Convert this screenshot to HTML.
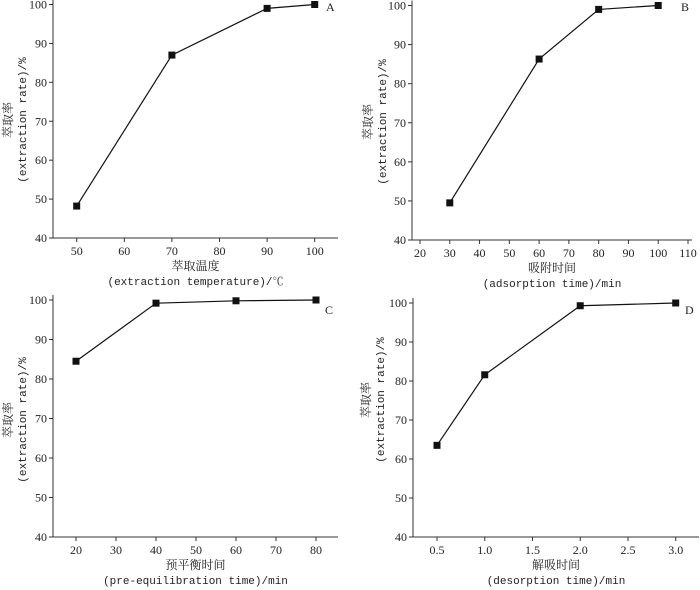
<!DOCTYPE html>
<html><head><meta charset="utf-8"><style>
html,body{margin:0;padding:0;background:#fff;}
svg{display:block;}
text{fill:#222;}
.tk{font-family:"Liberation Serif",serif;font-size:12px;}
.zh{font-family:"Liberation Serif","Noto Serif CJK SC",serif;font-size:12px;}
.en{font-family:"Liberation Mono","Noto Serif CJK SC",monospace;font-size:11px;}
</style></head><body>
<svg id="chart" width="700" height="590"></svg>
<script>
const aX = [50, 70, 90, 100];
const aY = [48.2, 87.0, 99.0, 100.0];
const aTicks = [50, 60, 70, 80, 90, 100];
const bX = [30, 60, 80, 100];
const bY = [49.5, 86.3, 99.0, 100.0];
const bTicks = [20, 30, 40, 50, 60, 70, 80, 90, 100, 110];
const cX = [20, 40, 60, 80];
const cY = [84.5, 99.2, 99.8, 100.0];
const cTicks = [20, 30, 40, 50, 60, 70, 80];
const dX = [0.5, 1.0, 2.0, 3.0];
const dY = [63.5, 81.6, 99.3, 100.0];
const dTicks = [0.5, 1.0, 1.5, 2.0, 2.5, 3.0];
const dTickLabels = ["0.5", "1.0", "1.5", "2.0", "2.5", "3.0"];
const yTicks = [40, 50, 60, 70, 80, 90, 100];

const NS = "http://www.w3.org/2000/svg";
const svg = document.getElementById("chart");
function mk(tag, attrs, parent, txt) {
  const e = document.createElementNS(NS, tag);
  for (const k in attrs) e.setAttribute(k, attrs[k]);
  if (txt !== undefined) e.textContent = txt;
  parent.appendChild(e);
  return e;
}
function panel(cfg) {
  const g = mk("g", {}, svg);
  
  
  const xs = v => cfg.x0px + (v - cfg.x0) / (cfg.x1 - cfg.x0) * (cfg.x1px - cfg.x0px);
  const ys = v => cfg.y40 + (v - 40) / 60 * (cfg.y100 - cfg.y40);
  const ax = mk("g", {stroke: "#333", "stroke-width": 1}, g);
  
  
  mk("line", {x1: cfg.axL, y1: cfg.y100 - 5, x2: cfg.axL, y2: cfg.y40}, ax);
  mk("line", {x1: cfg.axL, y1: cfg.y40, x2: cfg.axR, y2: cfg.y40}, ax);
  yTicks.forEach(t => {
    const y = ys(t);
    mk("line", {x1: cfg.axL - 4, y1: y, x2: cfg.axL, y2: y}, ax);
    const tx = mk("text", {x: cfg.axL - 6, y: y + 4, "text-anchor": "end", class: "tk"}, g, String(t));
    
    
  });
  cfg.ticks.forEach((t, i) => {
    const x = xs(t);
    mk("line", {x1: x, y1: cfg.y40, x2: x, y2: cfg.y40 + 4}, ax);
    const tx = mk("text", {x: x, y: cfg.y40 + 17, "text-anchor": "middle", class: "tk"}, g, cfg.labels ? cfg.labels[i] : String(t));
    
    
  });
  const pts = cfg.xd.map((v, i) => xs(v) + "," + ys(cfg.yd[i])).join(" ");
  const ln = mk("polyline", {points: pts, fill: "none", stroke: "#111", "stroke-width": 1.2}, g);
  
  
  cfg.xd.forEach((v, i) => {
    const r = mk("rect", {x: xs(v) - 3.5, y: ys(cfg.yd[i]) - 3.5, width: 7, height: 7, fill: "#111"}, g);
    
    
  });
  const lab = mk("text", {x: cfg.labX, y: cfg.labY, class: "tk"}, g, cfg.id.toUpperCase());
  
  
  const xc = (cfg.axL + cfg.axR) / 2;
  const t1 = mk("text", {x: xc, y: cfg.y40 + 32, "text-anchor": "middle", class: "zh"}, g, cfg.xzh);
  
  
  const t2 = mk("text", {x: xc, y: cfg.y40 + 47, "text-anchor": "middle", class: "en"}, g, cfg.xen);
  
  
  const yc = cfg.ycen;
  const y1 = mk("text", {x: 0, y: 0, "text-anchor": "middle", class: "zh", transform: `translate(${cfg.ytx},${yc}) rotate(-90)`}, g, "萃取率");
  
  
  const y2 = mk("text", {x: 0, y: 0, "text-anchor": "middle", class: "en", transform: `translate(${cfg.ytx + 14},${yc}) rotate(-90)`}, g, "(extraction rate)/%");
  
  
}
panel({id: "a", xd: aX, yd: aY, ticks: aTicks, x0: 50, x1: 100, x0px: 76.7, x1px: 314.7, axL: 53, axR: 338, y100: 4.5, y40: 238, labX: 326, labY: 11, xzh: "萃取温度", xen: "(extraction temperature)/℃", ytx: 12, ycen: 120});
panel({id: "b", xd: bX, yd: bY, ticks: bTicks, x0: 20, x1: 110, x0px: 420, x1px: 688, axL: 412, axR: 692, y100: 5.5, y40: 240, labX: 681, labY: 11, xzh: "吸附时间", xen: "(adsorption time)/min", ytx: 372, ycen: 122});
panel({id: "c", xd: cX, yd: cY, ticks: cTicks, x0: 20, x1: 80, x0px: 76, x1px: 316, axL: 53, axR: 338, y100: 300, y40: 537, labX: 325, labY: 314, xzh: "预平衡时间", xen: "(pre-equilibration time)/min", ytx: 12, ycen: 420});
panel({id: "d", xd: dX, yd: dY, ticks: dTicks, labels: dTickLabels, x0: 0.5, x1: 3.0, x0px: 437, x1px: 675.7, axL: 413, axR: 699, y100: 303, y40: 537, labX: 685, labY: 314, xzh: "解吸时间", xen: "(desorption time)/min", ytx: 370, ycen: 400});
</script>
</body></html>
